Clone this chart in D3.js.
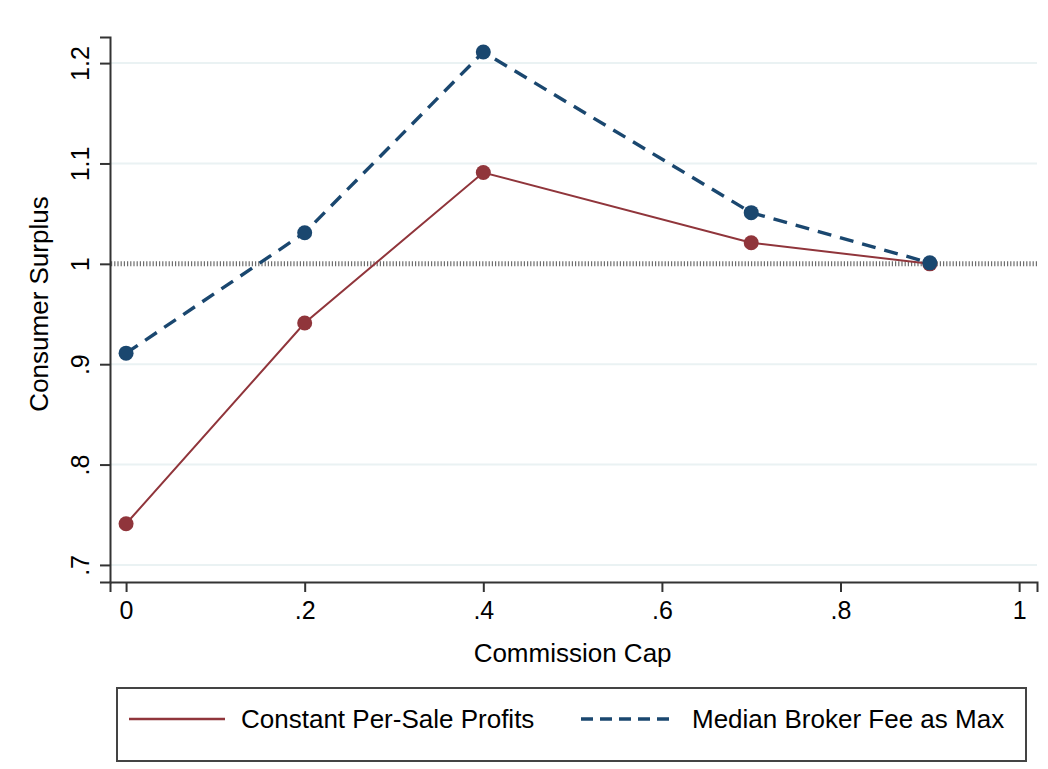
<!DOCTYPE html>
<html>
<head>
<meta charset="utf-8">
<script src="https://cdn.jsdelivr.net/npm/d3@7"></script>
<style>
  body { margin: 0; background: #fff; }
  svg { display: block; font-family: "Liberation Sans", Arial, sans-serif; }
</style>
</head>
<body>
<svg></svg>
<script>
// Data
const caps = [0, 0.2, 0.4, 0.7, 0.9];
const constantProfits = [0.741, 0.941, 1.091, 1.021, 1.0];
const medianFeeMax = [0.911, 1.031, 1.211, 1.051, 1.001];
const xTicks = [0, 0.2, 0.4, 0.6, 0.8, 1];
const yTicks = [0.7, 0.8, 0.9, 1, 1.1, 1.2];

// Constants
const width = 1048;
const height = 769;
const red = '#90353b';
const blue = '#1a476f';

const svg = d3.select('svg')
    .attr('width', width)
    .attr('height', height);

const fmt = d => String(d).replace(/^0\./, '.');

// scales
const x = d3.scaleLinear()
    .domain([-0.018, 1.02])
    .range([110, 1037]);

const y = d3.scaleLinear()
    .domain([0.683, 1.226])
    .range([582, 37]);

// gridlines
svg.append('g')
    .selectAll('line')
    .data(yTicks.filter(d => d !== 1)).enter()
    .append('line')
    .attr('x1', 110)
    .attr('x2', 1037)
    .attr('y1', d => y(d))
    .attr('y2', d => y(d))
    .attr('stroke', '#eaf2f3')
    .attr('stroke-width', 2);

// reference line at 1
svg.append('line')
    .attr('x1', 111)
    .attr('x2', 1037)
    .attr('y1', y(1))
    .attr('y2', y(1))
    .attr('stroke', '#6e6e6e')
    .attr('stroke-width', 5)
    .attr('stroke-dasharray', '1.2,2');

// xAxis
const xAxis = d3.axisBottom(x)
    .tickValues(xTicks)
    .tickSize(10)
    .tickPadding(9)
    .tickFormat(fmt);

const gx = svg.append('g')
    .attr('transform', `translate(0, 582)`)
    .call(xAxis);

// yAxis
const yAxis = d3.axisLeft(y)
    .tickValues(yTicks)
    .tickSize(10)
    .tickFormat(fmt);

const gy = svg.append('g')
    .attr('transform', `translate(110, 0)`)
    .call(yAxis);

[gx, gy].forEach(g => {
    g.attr('font-size', 25).attr('font-family', null);
    g.select('.domain').attr('stroke', '#333').attr('stroke-width', 2);
    g.selectAll('.tick line').attr('stroke', '#333').attr('stroke-width', 2);
    g.selectAll('.tick text').attr('fill', '#000');
});

gy.selectAll('.tick text')
    .attr('transform', 'translate(-21,0) rotate(-90)')
    .attr('x', 0)
    .attr('y', 0)
    .attr('dy', '0')
    .attr('text-anchor', 'middle');

// axis titles
svg.append('text')
    .attr('x', x(0.5))
    .attr('y', 662)
    .attr('text-anchor', 'middle')
    .attr('font-size', 26)
    .text('Commission Cap');

svg.append('text')
    .attr('transform', `translate(48, ${y(0.96)}) rotate(-90)`)
    .attr('text-anchor', 'middle')
    .attr('font-size', 26)
    .text('Consumer Surplus');

// lines
const series = [
    { values: constantProfits, color: red, width: 2, dash: null },
    { values: medianFeeMax, color: blue, width: 3.4, dash: '14,9' }
];

const line = d3.line()
    .x((d, i) => x(caps[i]))
    .y(d => y(d));

series.forEach(s => {
    svg.append('path')
        .datum(s.values)
        .attr('fill', 'none')
        .attr('stroke', s.color)
        .attr('stroke-width', s.width)
        .attr('stroke-dasharray', s.dash)
        .attr('d', line);
});

series.forEach(s => {
    svg.append('g')
        .selectAll('circle')
        .data(s.values).enter()
        .append('circle')
        .attr('cx', (d, i) => x(caps[i]))
        .attr('cy', d => y(d))
        .attr('r', 7.5)
        .attr('fill', s.color);
});

// legend
const legend = svg.append('g');

legend.append('rect')
    .attr('x', 117)
    .attr('y', 688)
    .attr('width', 909)
    .attr('height', 73)
    .attr('fill', '#fff')
    .attr('stroke', '#444')
    .attr('stroke-width', 2);

const legendItems = [
    { label: 'Constant Per-Sale Profits', color: red, width: 2.5, dash: null, x1: 129, x2: 225, tx: 241 },
    { label: 'Median Broker Fee as Max', color: blue, width: 3.4, dash: '12,7', x1: 581, x2: 676, tx: 692 }
];

legendItems.forEach(l => {
    legend.append('line')
        .attr('x1', l.x1)
        .attr('x2', l.x2)
        .attr('y1', 719)
        .attr('y2', 719)
        .attr('stroke', l.color)
        .attr('stroke-width', l.width)
        .attr('stroke-dasharray', l.dash);
    legend.append('text')
        .attr('x', l.tx)
        .attr('y', 728)
        .attr('font-size', 26)
        .text(l.label);
});
</script>
</body>
</html>
